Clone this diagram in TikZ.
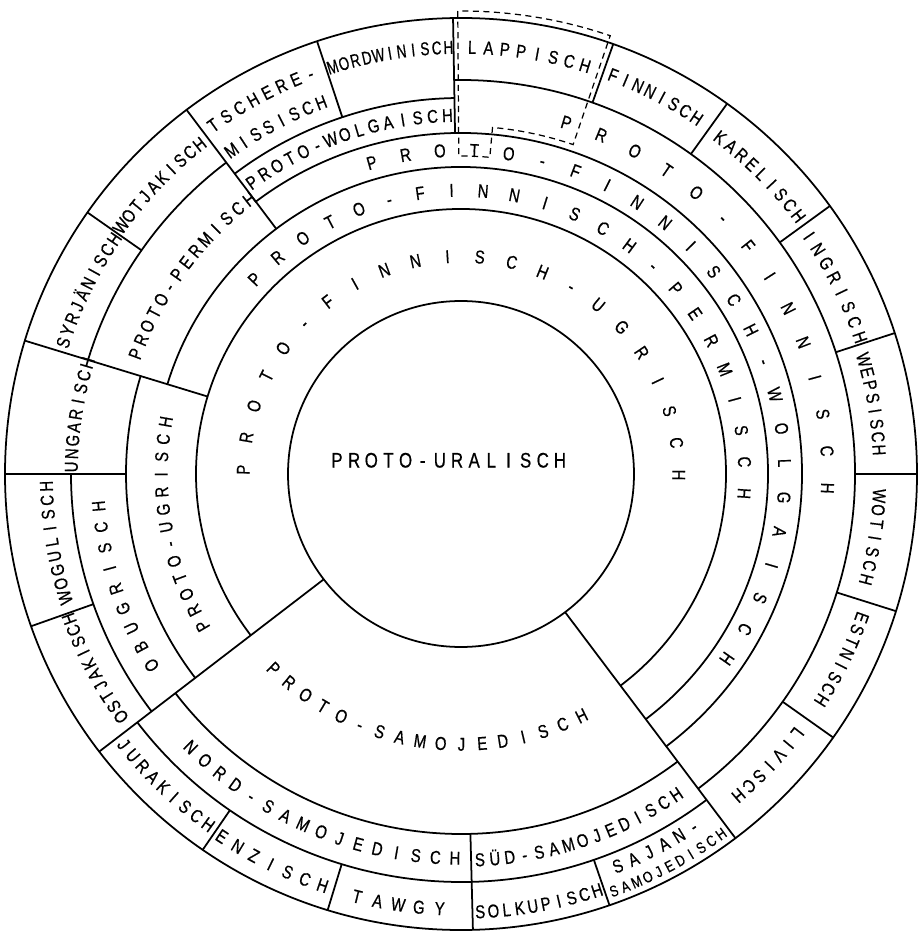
\documentclass[tikz,border=0pt]{standalone}
\usepackage{fontspec}
\newfontfamily\stencilfont[FakeStretch=0.8,FakeBold=0.6]{Liberation Sans}
\newcommand\lettering{\stencilfont\fontsize{10.6}{12}\selectfont}
\newcommand\smalllettering{\stencilfont\fontsize{8.8}{10}\selectfont}
\newcommand\biglettering{\stencilfont\fontsize{12}{14}\selectfont}

\tikzset{
  ring/.style={line width=1pt},
  uncertain/.style={line width=.7pt,dash pattern=on 3.5pt off 2.5pt},
  letter/.style={font=\lettering,inner sep=0pt,text height=7.6pt,text depth=0pt},
  smallletter/.style={letter,font=\smalllettering,text height=6.3pt},
  bigletter/.style={letter,font=\biglettering,text height=8.6pt}
}

% one word along a circle: [opts] radius, middle angle, step per letter (<0 clockwise), word
\makeatletter
\newcount\letterno
\newcommand\ringword[5][]{%
  \letterno=0
  \@tfor\ch:=#5\do{\advance\letterno by 1}%
  \pgfmathsetmacro\firstang{#3-(#4)*(\the\letterno-1)/2}%
  \letterno=0
  \@tfor\ch:=#5\do{%
    \pgfmathsetmacro\ang{\firstang+(#4)*\the\letterno}%
    \node[letter,rotate=\ang+90*sign(#4),#1] at (\ang:#2) {\ch};%
    \advance\letterno by 1}}
\makeatother

\begin{document}
\begin{tikzpicture}[x=0.02cm,y=0.02cm]
  \useasboundingbox (-461,-462) rectangle (456,474);

  \draw[ring] (0,0) circle[radius=456];
  \draw[ring] (0,0) circle[radius=173];

  % ring borders
  \draw[ring] (-53:265) arc[start angle=-53,end angle=217.5,radius=265];
  \draw[ring] (-53:307) arc[start angle=-53,end angle=163,radius=307];
  \draw[ring] (-53:341) arc[start angle=-53,end angle=127,radius=341];
  \draw[ring] (-53:394) arc[start angle=-53,end angle=91,radius=394];
  \draw[ring] (91:376) arc[start angle=91,end angle=127,radius=376];
  \draw[ring] (127:390) arc[start angle=127,end angle=163,radius=390];
  \draw[ring] (163:335) arc[start angle=163,end angle=217.5,radius=335];
  \draw[ring] (180:390) arc[start angle=180,end angle=217.5,radius=390];
  \draw[ring] (217.5:360) arc[start angle=217.5,end angle=307,radius=360];
  \draw[ring] (217.5:408) arc[start angle=217.5,end angle=307,radius=408];

  % radial borders
  \foreach \a/\ri in {217.5/173,-53/173,163/265,180/335,199.5/390,145/390,
      127/307,108.4/376,91/341,70.5/394,54.3/394,36/394,18/394,0/394,
      -17.5/394,-35.3/394,235.5/408,253/408,271.5/360,-71/408}
    \draw[ring] (\a:\ri) -- (\a:456);

  % Lappisch: uncertain position
  \draw[uncertain] (90.4:463) -- (90.4:318)
    arc[start angle=90.4,end angle=84.8,radius=318] -- (84.8:348)
    arc[start angle=84.8,end angle=71.2,radius=348] -- (71.2:463)
    arc[start angle=71.2,end angle=90.4,radius=463] -- cycle;

  \foreach \ch [count=\i from 0] in {P,R,O,T,O,-,U,R,A,L,I,S,C,H}
    \node[bigletter] at (-124+17.15*\i,14) {\ch};

  \ringword{218}{89.3}{-8.53}{PROTO-FINNISCH-UGRISCH}
  \ringword{284}{66.35}{-6.39}{PROTO-FINNISCH-PERMISCH}
  \ringword{324}{35.6}{-6.12}{PROTO-FINNISCH-WOLGAISCH}
  \ringword{367}{35.55}{-5.81}{PROTO-FINNISCH}
  \ringword{359}{108.9}{-2.39}{PROTO-WOLGAISCH}
  \ringword{347}{143.65}{-2.47}{PROTO-PERMISCH}
  \ringword{300}{190.2}{-3.37}{PROTO-UGRISCH}
  \ringword{364}{198.4}{-3.33}{OBUGRISCH}

  \ringword{427}{80.8}{-2.2}{LAPPISCH}
  \ringword{427}{62.8}{-1.8}{FINNISCH}
  \ringword{425}{44.9}{-1.875}{KARELISCH}
  \ringword{422}{26.65}{-2.21}{INGRISCH}
  \ringword{419}{9.55}{-1.79}{WEPSISCH}
  \ringword{419}{-8.8}{-1.93}{WOTISCH}
  \ringword{426}{-25.9}{-1.77}{ESTNISCH}
  \ringword{425}{-43.4}{-1.93}{LIVISCH}
  \ringword[xscale=.9]{427}{99.6}{-1.58}{MORDWINISCH}
  \ringword{428}{118}{-2.11}{TSCHERE-}
  \ringword{397}{118}{-2.1}{MISSISCH}
  \ringword{421}{136.15}{-1.72}{WOTJAKISCH}
  \ringword{419}{153.8}{-1.76}{SYRJÄNISCH}
  \ringword{390}{171.2}{-1.94}{UNGARISCH}
  \ringword{415}{189.5}{-1.95}{WOGULISCH}
  \ringword{418}{207.9}{-1.69}{OSTJAKISCH}

  \ringword{270}{261.3}{4.4}{PROTO-SAMOJEDISCH}
  \ringword{384}{247.2}{2.92}{NORD-SAMOJEDISCH}
  \ringword{386}{288.35}{2.22}{SÜD-SAMOJEDISCH}
  \ringword{432}{226.45}{1.94}{JURAKISCH}
  \ringword{434}{244}{2.47}{ENZISCH}
  \ringword{435}{261.7}{2.75}{TAWGY}
  \ringword{438}{280.3}{1.73}{SOLKUPISCH}
  \ringword{422}{297.6}{2.32}{SAJAN-}
  \ringword[smallletter]{444}{298}{1.57}{SAMOJEDISCH}
\end{tikzpicture}
\end{document}
